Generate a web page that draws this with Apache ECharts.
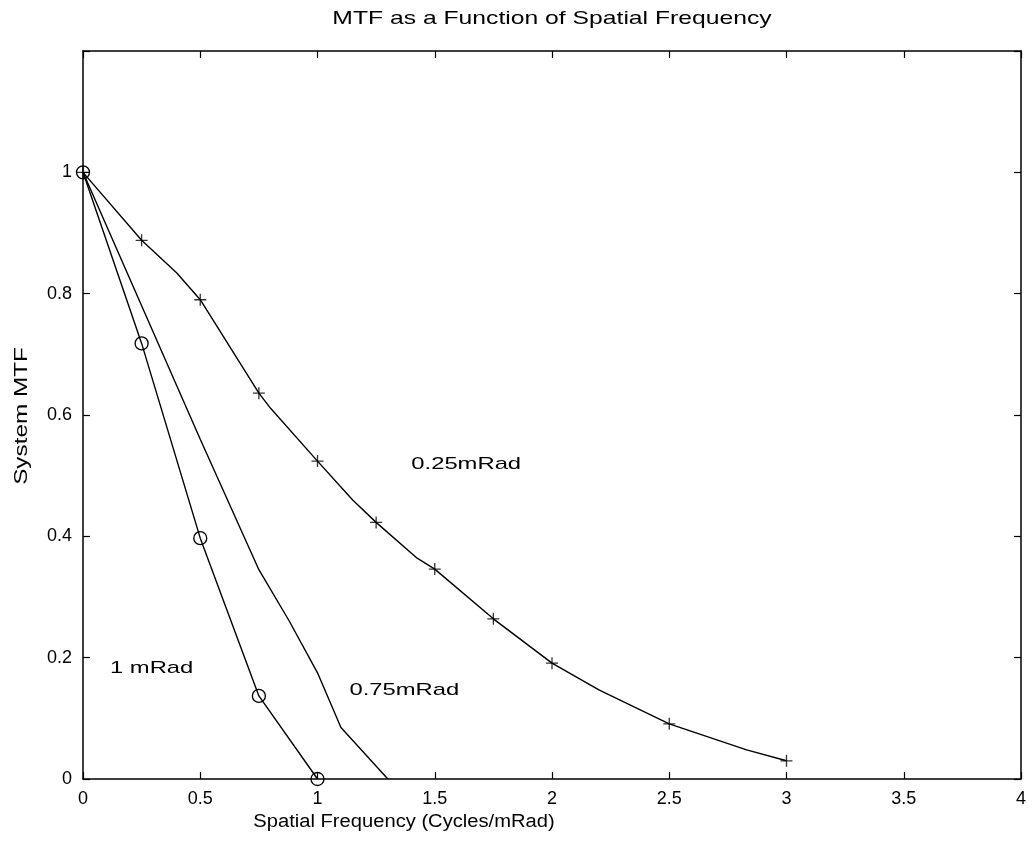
<!DOCTYPE html>
<html>
<head>
<meta charset="utf-8">
<script src="https://cdn.jsdelivr.net/npm/echarts@6/dist/echarts.min.js"></script>
<style>
  html, body { margin: 0; padding: 0; background: #fff; }
  #chart { width: 1033px; height: 850px; }
</style>
</head>
<body>
<div id="chart"></div>
<script>
// 0.25 mRad curve (line vertices) and its '+' markers
const x025 = [0, 0.25, 0.4, 0.5, 0.75, 0.8, 1, 1.15, 1.25, 1.425, 1.5, 1.75, 2, 2.2, 2.5, 2.83, 3]
const y025 = [1, 0.888, 0.834, 0.79, 0.636, 0.611, 0.524, 0.46, 0.423, 0.364, 0.346, 0.264, 0.191, 0.147, 0.091, 0.048, 0.03]
const xMark025 = [0, 0.25, 0.5, 0.75, 1, 1.25, 1.5, 1.75, 2, 2.5, 3]
const yMark025 = [1, 0.888, 0.79, 0.636, 0.524, 0.423, 0.346, 0.264, 0.191, 0.091, 0.03]
// 0.75 mRad curve, no markers
const x075 = [0, 0.25, 0.5, 0.75, 0.88, 1, 1.1, 1.3]
const y075 = [1, 0.78, 0.56, 0.345, 0.26, 0.175, 0.085, 0]
// 1 mRad curve with 'o' markers
const x1 = [0, 0.25, 0.5, 0.75, 1]
const y1 = [1, 0.718, 0.397, 0.137, 0]
// curve labels: [text, x, y]
const curveLabels = [['0.25mRad', 1.4, 0.519], ['0.75mRad', 1.136, 0.147], ['1 mRad', 0.115, 0.183]]

const zip = (xs, ys) => xs.map((x, i) => [x, ys[i]])
const FONT = 'Liberation Sans, Arial, Helvetica, sans-serif'
const fmt = v => (Math.abs(v - 1.2) < 0.01) ? '' : String(+v.toFixed(1))

const chart = echarts.init(document.getElementById('chart'))

const tickInside = { show: true, inside: true, length: 7, lineStyle: { color: '#000', width: 1.2 } }
const axLine = { show: true, onZero: false, lineStyle: { color: '#000', width: 1.5 } }

const textItem = (text, x, y, size, sx, rot) => ({
  type: 'text',
  x: x,
  y: y,
  scaleX: sx,
  rotation: rot || 0,
  silent: true,
  style: { text: text, font: size + 'px ' + FONT, fill: '#000', textAlign: 'center', textVerticalAlign: 'middle' }
})

chart.setOption({
  animation: false,
  backgroundColor: '#fff',
  grid: { left: 83, right: 12, top: 51, bottom: 71 },
  xAxis: [{
    type: 'value',
    min: 0,
    max: 4,
    interval: 0.5,
    axisLine: axLine,
    axisTick: tickInside,
    splitLine: { show: false },
    axisLabel: { color: '#000', fontSize: 18, fontFamily: FONT, margin: 11, formatter: fmt }
  }, {
    type: 'value',
    position: 'top',
    min: 0,
    max: 4,
    interval: 0.5,
    axisLine: axLine,
    axisTick: tickInside,
    splitLine: { show: false },
    axisLabel: { show: false }
  }],
  yAxis: [{
    type: 'value',
    min: 0,
    max: 1.2,
    interval: 0.2,
    axisLine: axLine,
    axisTick: tickInside,
    splitLine: { show: false },
    axisLabel: { color: '#000', fontSize: 18, fontFamily: FONT, margin: 11, formatter: fmt }
  }, {
    type: 'value',
    position: 'right',
    min: 0,
    max: 1.2,
    interval: 0.2,
    axisLine: axLine,
    axisTick: tickInside,
    splitLine: { show: false },
    axisLabel: { show: false }
  }],
  series: [
    {
      name: '0.25mRad',
      type: 'line',
      data: zip(x025, y025),
      showSymbol: false,
      lineStyle: { color: '#000', width: 1.4 }
    },
    {
      name: '0.25mRad markers',
      type: 'scatter',
      data: zip(xMark025, yMark025),
      symbol: 'path://M0,6L12,6M6,0L6,12',
      symbolSize: 12,
      itemStyle: { color: 'none', borderColor: '#000', borderWidth: 1.3 }
    },
    {
      name: '0.75mRad',
      type: 'line',
      data: zip(x075, y075),
      showSymbol: false,
      lineStyle: { color: '#000', width: 1.4 }
    },
    {
      name: '1 mRad',
      type: 'line',
      data: zip(x1, y1),
      symbol: 'circle',
      symbolSize: 13,
      showSymbol: true,
      lineStyle: { color: '#000', width: 1.4 },
      itemStyle: { color: 'none', borderColor: '#000', borderWidth: 1.3 }
    }
  ]
})

// texts: title, axis names and curve labels (curve labels placed via data coords)
const texts = [
  textItem('MTF as a Function of Spatial Frequency', 552, 19, 19, 1.3),
  textItem('Spatial Frequency (Cycles/mRad)', 404, 822, 18, 1.12),
  textItem('System MTF', 22, 416, 18, 1.35, Math.PI / 2)
]
curveLabels.forEach(l => {
  const p = chart.convertToPixel({ gridIndex: 0 }, [l[1], l[2]])
  const t = textItem(l[0], p[0], p[1], 17, 1.4)
  t.style.textAlign = 'left'
  texts.push(t)
})
chart.setOption({ graphic: texts })
</script>
</body>
</html>
